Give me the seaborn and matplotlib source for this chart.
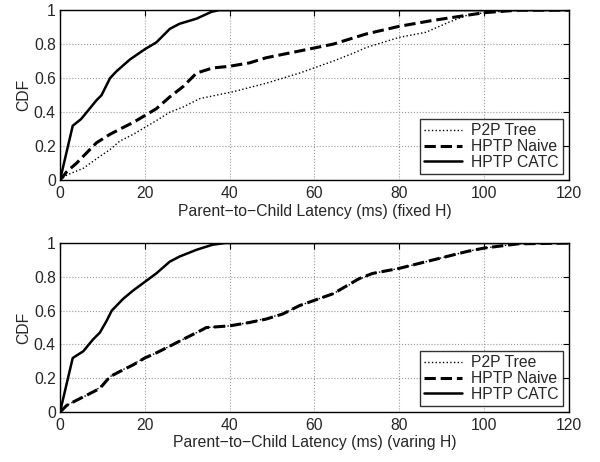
import numpy as np
import pandas as pd
import seaborn as sns
import matplotlib
matplotlib.use("Agg")
import matplotlib.pyplot as plt

# top panel (fixed H)
catc_fixed_x = [0, 3, 5, 8.6, 9.8, 11.8, 13.3, 16.5, 20, 22.7, 25.9, 28.2, 32.2, 35.7, 37.5, 120]
catc_fixed_y = [0, 0.32, 0.36, 0.47, 0.50, 0.60, 0.64, 0.71, 0.77, 0.81, 0.89, 0.92, 0.95, 0.99, 1.0, 1.0]

naive_fixed_x = [0, 1.6, 3.9, 8.6, 11.8, 14.1, 17.3, 20, 22.7, 25.9, 29, 32.2, 36, 40, 44.7, 48.6, 56.5,
                 64.4, 72.2, 80, 88, 96, 100, 108, 120]
naive_fixed_y = [0, 0.05, 0.10, 0.22, 0.27, 0.30, 0.34, 0.38, 0.42, 0.49, 0.55, 0.63, 0.66, 0.67, 0.69, 0.72, 0.76,
                 0.80, 0.86, 0.905, 0.94, 0.97, 0.985, 1.0, 1.0]

p2p_fixed_x = [0, 1.6, 5.5, 9.4, 11.8, 14.1, 17.3, 20, 22.7, 25.9, 29, 33, 36.9, 40.8, 48.6, 56.5,
               64.4, 69, 72.2, 80, 86.3, 91.8, 96, 100, 108, 120]
p2p_fixed_y = [0, 0.03, 0.07, 0.14, 0.18, 0.23, 0.27, 0.31, 0.35, 0.40, 0.43, 0.48, 0.50, 0.52, 0.57, 0.63,
               0.70, 0.745, 0.78, 0.84, 0.87, 0.93, 0.97, 0.985, 1.0, 1.0]

# bottom panel (varing H)
catc_var_x = [0, 3, 5.5, 7.8, 9.4, 11, 12.2, 14.9, 17.3, 20, 22.7, 25.9, 28.2, 32.2, 36, 39, 120]
catc_var_y = [0, 0.32, 0.36, 0.43, 0.47, 0.54, 0.60, 0.67, 0.72, 0.77, 0.82, 0.89, 0.92, 0.96, 0.99, 1.0, 1.0]

naive_var_x = [0, 1.6, 3.9, 6.3, 9.4, 11.8, 14.1, 17.3, 20, 22.7, 25.9, 29, 33, 34.5, 40, 44.7, 48.6, 52.5, 56.5,
               64.4, 70.6, 73.7, 80, 88, 96, 100, 108, 120]
naive_var_y = [0, 0.04, 0.07, 0.10, 0.14, 0.21, 0.24, 0.28, 0.32, 0.35, 0.39, 0.43, 0.48, 0.50, 0.51, 0.53, 0.55, 0.58, 0.63,
               0.70, 0.79, 0.82, 0.85, 0.90, 0.95, 0.97, 0.995, 1.0]

p2p_var_x = naive_var_x
p2p_var_y = [0, 0.04, 0.07, 0.10, 0.145, 0.21, 0.24, 0.285, 0.32, 0.35, 0.39, 0.43, 0.48, 0.50, 0.51, 0.53, 0.555, 0.58, 0.63,
             0.70, 0.785, 0.82, 0.85, 0.90, 0.95, 0.97, 0.995, 1.0]

series_names = ["P2P Tree", "HPTP Naive", "HPTP CATC"]
styles = {"P2P Tree": (":", 1.0), "HPTP Naive": ("--", 2.2), "HPTP CATC": ("-", 1.8)}

sns.set_style("white")
plt.rcParams['font.family'] = ['Liberation Sans', 'DejaVu Sans']
fs = 11.3

fig = plt.figure(figsize=(6, 4.62), dpi=100)
ax1 = fig.add_axes([0.1, 0.61, 0.848, 0.368])
ax2 = fig.add_axes([0.1, 0.108, 0.848, 0.366])

panels = [
    (ax1, [(p2p_fixed_x, p2p_fixed_y), (naive_fixed_x, naive_fixed_y), (catc_fixed_x, catc_fixed_y)],
     "Parent\u2212to\u2212Child Latency (ms) (fixed H)"),
    (ax2, [(p2p_var_x, p2p_var_y), (naive_var_x, naive_var_y), (catc_var_x, catc_var_y)],
     "Parent\u2212to\u2212Child Latency (ms) (varing H)"),
]

for ax, data, xlabel in panels:
    for name, (xs, ys) in zip(series_names, data):
        ls, lw = styles[name]
        df = pd.DataFrame({"x": xs, "y": ys})
        sns.lineplot(data=df, x="x", y="y", ax=ax, color="black", linestyle=ls,
                     linewidth=lw, label=name, sort=False)
    ax.set_xlim(0, 120)
    ax.set_ylim(0, 1)
    ax.set_xticks([0, 20, 40, 60, 80, 100, 120])
    ax.set_yticks([0, 0.2, 0.4, 0.6, 0.8, 1])
    ax.set_yticklabels(["0", "0.2", "0.4", "0.6", "0.8", "1"])
    ax.grid(True, linestyle=":", color="#999999", linewidth=0.8)
    ax.tick_params(direction="in", top=True, right=True, length=4, labelsize=fs, color="black")
    ax.tick_params(axis="x", pad=4)
    ax.tick_params(axis="y", pad=3)
    for sp in ax.spines.values():
        sp.set_color("black")
        sp.set_linewidth(1.0)
    ax.set_xlabel(xlabel, fontsize=fs, labelpad=2)
    ax.set_ylabel("CDF", fontsize=fs, labelpad=2)
    leg = ax.legend(loc="lower right", fontsize=fs, frameon=True, fancybox=False,
                    edgecolor="black", handlelength=2.4, borderpad=0.25, labelspacing=0.05,
                    borderaxespad=0.4, handletextpad=0.6)
    leg.get_frame().set_linewidth(1.0)

fig.savefig("out.png", dpi=100)
